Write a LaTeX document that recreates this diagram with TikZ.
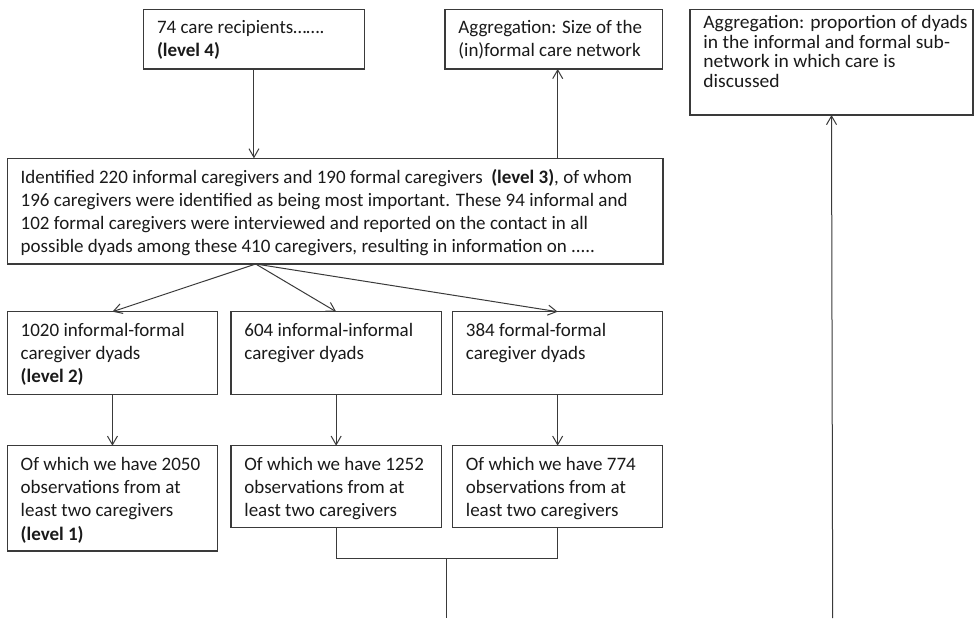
\documentclass[tikz,border=0pt]{standalone}
\usepackage{fontspec}
\setmainfont{Carlito}
\newfontfamily\widefont[FakeStretch=1.03]{Carlito}
\usetikzlibrary{arrows.meta}
\newdimen\px \px=0.75pt
\definecolor{linec}{HTML}{3A3A3A}
\definecolor{textc}{HTML}{1A1A1A}
\tikzset{
  bx/.style={draw=linec, line width=0.8pt, rectangle, inner sep=0pt, outer sep=0pt, anchor=north west, text=textc},
  ln/.style={draw=linec, line width=0.75pt},
  arr/.style={ln, -{Straight Barb[length=6.5pt, width=7.5pt]}}
}
% name, x, y, w, h, first-baseline offset, baselineskip, lines, extra font
\newcommand\bxn[9]{%
  \node[bx, minimum width=#4*0.75pt, minimum height=#5*0.75pt] (#1) at (#2,#3)
  {#9\fontsize{14.25pt}{#7}\selectfont\parbox[c][#5\px][t]{\dimexpr#4\px-26.8\px\relax}{\rule{0pt}{#6\px}\begin{tabular}[t]{@{}l@{}}#8\end{tabular}}};}
\begin{document}
\begin{tikzpicture}[x=0.75pt, y=-0.75pt]
\useasboundingbox (0,0) rectangle (974,618);
\fill[white] (0,0) rectangle (974,618);
\bxn{A}{143.6}{9.3}{220.7}{59.7}{24.3}{17.5pt}{74 care recipients…….\\ \textbf{(level 4)}}{}
\bxn{B}{445}{9.3}{217.7}{59.7}{24.3}{17.5pt}{Aggregation: Size of the\\ (in)formal care network}{}
\bxn{AG}{690}{9.3}{283}{105.7}{19.4}{14.6pt}{Aggregation: proportion of dyads\\ in the informal and formal sub-\\ network in which care is\\ discussed}{\widefont}
\bxn{T}{7.3}{158.3}{655.7}{105.7}{25}{17.2pt}{Identified 220 informal caregivers and 190 formal caregivers \ \textbf{(level 3)}, of whom\\ 196 caregivers were identified as being most important. These 94 informal and\\ 102 formal caregivers were interviewed and reported on the contact in all\\ possible dyads among these 410 caregivers, resulting in information on .....}{}
\bxn{L2}{7.3}{311.7}{210.3}{82.6}{24.3}{17.5pt}{1020 informal-formal\\ caregiver dyads\\ \textbf{(level 2)}}{}
\bxn{M2}{231}{311.7}{210.3}{82.6}{24.3}{17.5pt}{604 informal-informal\\ caregiver dyads}{}
\bxn{R2}{452.5}{311.7}{210.3}{82.6}{24.3}{17.5pt}{384 formal-formal\\ caregiver dyads}{}
\bxn{L1}{7.3}{445.7}{210.3}{105.3}{24.3}{17.5pt}{Of which we have 2050\\ observations from at\\ least two caregivers\\ \textbf{(level 1)}}{}
\bxn{M1}{231}{445.7}{210.3}{81.6}{24.3}{17.5pt}{Of which we have 1252\\ observations from at\\ least two caregivers}{}
\bxn{R1}{452.5}{445.7}{210.3}{81.6}{24.3}{17.5pt}{Of which we have 774\\ observations from at\\ least two caregivers}{}
\coordinate (xB) at (557.7,0);
\coordinate (fork) at (255.7,264);
\coordinate (bend) at (446.7,558.7);
\coordinate (bot) at (446.7,618);
\coordinate (bot2) at (832.7,618);
\draw[arr] (A.south) -- (A.south |- T.north);
\draw[arr] (T.north -| xB) -- (B.south -| xB);
\draw[arr] (fork) -- (L2.north);
\draw[arr] (fork) -- (M2.north);
\draw[arr] (fork) -- (R2.north);
\draw[arr] (L2.south) -- (L1.north);
\draw[arr] (M2.south) -- (M1.north);
\draw[arr] (R2.south) -- (R1.north);
\draw[ln] (M1.south) |- (R1.south |- bend) -- (R1.south);
\draw[ln] (bend) -- (bot);
\draw[arr] (bot2) -- (AG.south);
\end{tikzpicture}
\end{document}
